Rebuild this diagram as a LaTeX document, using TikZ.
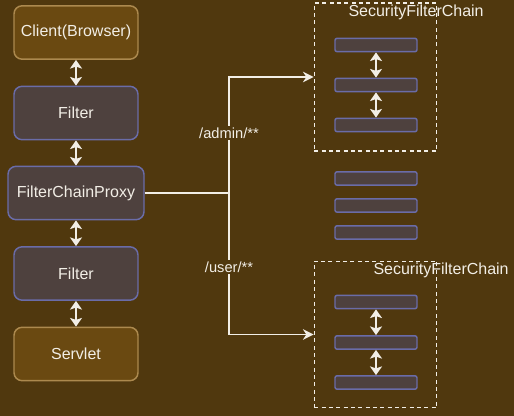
\documentclass[tikz,border=0pt]{standalone}
\usepackage{fontspec}
\setmainfont{Liberation Sans}
\usetikzlibrary{arrows.meta}

\definecolor{bgbrown}{RGB}{80,56,14}
\definecolor{goldfill}{RGB}{106,73,17}
\definecolor{goldline}{RGB}{172,137,78}
\definecolor{filterfill}{RGB}{78,65,62}
\definecolor{filterline}{RGB}{106,108,168}
\definecolor{paper}{RGB}{242,238,230}

\tikzset{every picture/.style={line width=0.75pt}}
\tikzset{
	endbox/.style={draw=goldline, fill=goldfill, line width=1.1pt, rounded corners=6pt, minimum width=93pt, minimum height=40pt, text=paper, font=\fontsize{12}{14}\selectfont},
	filterbox/.style={draw=filterline, fill=filterfill, line width=1.1pt, rounded corners=6pt, minimum width=93pt, minimum height=40pt, text=paper, font=\fontsize{12}{14}\selectfont},
	bar/.style={draw=filterline, fill=filterfill, line width=1.1pt, rounded corners=1.5pt, minimum width=61.5pt, minimum height=10pt, inner sep=0pt},
	chainbox/.style={draw=paper, dashed, dash pattern=on 3pt off 2.5pt, line width=0.9pt, minimum width=92pt, minimum height=111pt, inner sep=0pt},
	chaintitle/.style={text=paper, inner sep=0pt, anchor=west, font=\fontsize{12}{14}\selectfont},
	route/.style={text=paper, fill=bgbrown, inner sep=1pt, font=\fontsize{11}{13}\selectfont},
	duplex/.style={draw=paper, line width=1.3pt, {Stealth[length=6.5pt,width=9pt,inset=1.5pt]}-{Stealth[length=6.5pt,width=9pt,inset=1.5pt]}},
	flow/.style={draw=paper, line width=1.1pt}
}

\begin{document}
\begin{tikzpicture}[x=0.75pt,y=0.75pt,yscale=-1,xscale=1]
		\fill[bgbrown] (0,0) rectangle (514,416);
		\useasboundingbox (0,0) rectangle (514,416);
		
		%Shape: left column
		\node[endbox] (client) at (76,32.5) {Client(Browser)};
		\node[filterbox] (filterA) at (76,113) {Filter};
		\node[filterbox, minimum width=102pt] (proxy) at (76,193) {FilterChainProxy};
		\node[filterbox] (filterB) at (76,273.5) {Filter};
		\node[endbox] (servlet) at (76,354) {Servlet};
		
		\draw[duplex] (client) -- (filterA);
		\draw[duplex] (filterA) -- (proxy);
		\draw[duplex] (proxy) -- (filterB);
		\draw[duplex] (filterB) -- (servlet);
		
		%Shape: first chain
		\node[chainbox] (chainA) at (375.5,77) {};
		\node[chaintitle] (titleA) at (348,12) {SecurityFilterChain};
		\node[bar] (barA1) at (376,45) {};
		\node[bar] (barA2) at (376,85) {};
		\node[bar] (barA3) at (376,125) {};
		\draw[duplex] (barA1) -- (barA2);
		\draw[duplex] (barA2) -- (barA3);
		
		%Shape: bars between the chains
		\node[bar] (barM1) at (376,178.5) {};
		\node[bar] (barM2) at (376,205.5) {};
		\node[bar] (barM3) at (376,232.5) {};
		
		%Shape: second chain
		\node[chainbox, minimum height=110pt] (chainB) at (375.5,334.5) {};
		\node[chaintitle] (titleB) at (373,270) {SecurityFilterChain};
		\node[bar] (barB1) at (376,302) {};
		\node[bar] (barB2) at (376,342.5) {};
		\node[bar] (barB3) at (376,382.5) {};
		\draw[duplex] (barB1) -- (barB2);
		\draw[duplex] (barB2) -- (barB3);
		
		%routing from the proxy
		\coordinate (fork) at (229,193);
		\draw[flow] (proxy.east) -- (fork);
		\draw[flow, -{Stealth[length=8pt,width=8pt]}] (fork) |- (chainA.west);
		\draw[flow, -{Stealth[length=8pt,width=8pt]}] (fork) |- (chainB.west);
		
		\node[route] (admin) at (229,133) {/admin/**};
		\node[route] (user) at (229,267) {/user/**};
		
\end{tikzpicture}
\end{document}
